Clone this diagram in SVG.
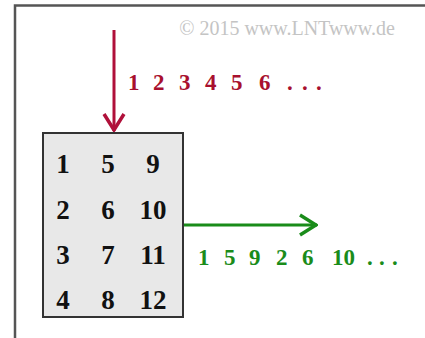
<svg xmlns="http://www.w3.org/2000/svg" width="425" height="338" viewBox="0 0 425 338">
<style>
.num{font-family:"Liberation Serif","Times New Roman",serif;font-weight:bold;font-size:27px;fill:#111;text-anchor:middle}
.seq{font-family:"Liberation Serif","Times New Roman",serif;font-weight:bold;font-size:23px}
.red{fill:#a8102e}
.grn{fill:#1a8c1a}
</style>
<defs>
<marker id="hr" viewBox="0 0 20 24" refX="19" refY="12" markerWidth="20" markerHeight="24" markerUnits="userSpaceOnUse" orient="auto">
<path d="M2,2 L18,12 L2,22" fill="none" stroke="#b0103a" stroke-width="3.5"/>
</marker>
<marker id="hg" viewBox="0 0 20 24" refX="19" refY="12" markerWidth="20" markerHeight="24" markerUnits="userSpaceOnUse" orient="auto">
<path d="M2,2 L18,12 L2,22" fill="none" stroke="#1a8c1a" stroke-width="3.5"/>
</marker>
</defs>
<rect width="425" height="338" fill="#fff"/>
<path d="M15,338 V5.5 H425" fill="none" stroke="#555" stroke-width="2.5"/>
<text x="287" y="35" font-family="Liberation Serif,serif" font-size="20" fill="#c4c4c4" text-anchor="middle">© 2015 www.LNTwww.de</text>
<g id="connectors">
<line x1="114" y1="30" x2="114" y2="131" stroke="#b0103a" stroke-width="3" marker-end="url(#hr)"/>
<line x1="183" y1="225" x2="317" y2="225" stroke="#1a8c1a" stroke-width="3" marker-end="url(#hg)"/>
</g>
<g id="input-seq">
<text class="seq red" y="90"><tspan x="128">1</tspan><tspan x="153">2</tspan><tspan x="179">3</tspan><tspan x="205">4</tspan><tspan x="231">5</tspan><tspan x="259">6</tspan><tspan x="287">.</tspan><tspan x="302">.</tspan><tspan x="316">.</tspan></text>
</g>
<g id="matrix">
<rect x="43" y="133" width="140" height="184" fill="#e8e8e8" stroke="#333" stroke-width="2"/>
<text class="num" x="63" y="173">1</text><text class="num" x="108" y="173">5</text><text class="num" x="153" y="173">9</text>
<text class="num" x="63" y="219">2</text><text class="num" x="108" y="219">6</text><text class="num" x="153" y="219">10</text>
<text class="num" x="63" y="264">3</text><text class="num" x="108" y="264">7</text><text class="num" x="153" y="264">11</text>
<text class="num" x="63" y="309">4</text><text class="num" x="108" y="309">8</text><text class="num" x="153" y="309">12</text>
</g>
<g id="output-seq">
<text class="seq grn" y="265"><tspan x="198">1</tspan><tspan x="224">5</tspan><tspan x="249">9</tspan><tspan x="276">2</tspan><tspan x="302">6</tspan><tspan x="332">10</tspan><tspan x="367">.</tspan><tspan x="379">.</tspan><tspan x="392">.</tspan></text>
</g>
</svg>
